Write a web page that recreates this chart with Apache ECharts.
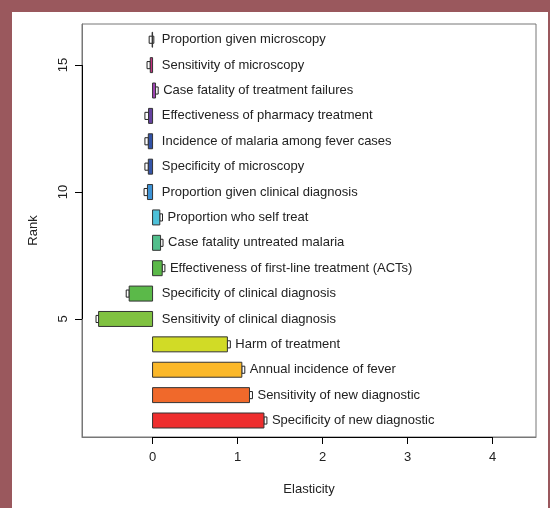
<!DOCTYPE html>
<html>
<head>
<meta charset="utf-8">
<script src="https://cdn.jsdelivr.net/npm/echarts@6/dist/echarts.min.js"></script>
<style>
  html, body { margin: 0; padding: 0; background: #9A585D; }
  #panel { position: absolute; left: 12px; top: 12px; width: 536px; height: 496px; background: #ffffff; }
  #chart { position: absolute; left: 0; top: 0; width: 550px; height: 508px; }
</style>
</head>
<body>
<div id="panel"></div>
<div id="chart"></div>
<script>
// Parameters, ordered by rank (1 = most influential)
const parameters = [
  'Specificity of new diagnostic',
  'Sensitivity of new diagnostic',
  'Annual incidence of fever',
  'Harm of treatment',
  'Sensitivity of clinical diagnosis',
  'Specificity of clinical diagnosis',
  'Effectiveness of first-line treatment (ACTs)',
  'Case fatality untreated malaria',
  'Proportion who self treat',
  'Proportion given clinical diagnosis',
  'Specificity of microscopy',
  'Incidence of malaria among fever cases',
  'Effectiveness of pharmacy treatment',
  'Case fatality of treatment failures',
  'Sensitivity of microscopy',
  'Proportion given microscopy'
];
const ranks = [1, 2, 3, 4, 5, 6, 7, 8, 9, 10, 11, 12, 13, 14, 15, 16];
const elasticity = [1.31, 1.14, 1.05, 0.88, -0.635, -0.275, 0.113, 0.094, 0.085, -0.06, -0.05, -0.05, -0.047, 0.035, -0.027, -0.005];
// Uncertainty interval around each elasticity
const intervalLow = [1.31, 1.14, 1.05, 0.88, -0.665, -0.31, 0.113, 0.094, 0.085, -0.1, -0.09, -0.09, -0.09, 0.035, -0.065, -0.04];
const intervalHigh = [1.345, 1.175, 1.085, 0.915, -0.635, -0.275, 0.145, 0.123, 0.117, -0.06, -0.05, -0.05, -0.047, 0.066, -0.027, 0.015];
const barColors = ['#EE2E2E', '#F0692B', '#FBB829', '#D1DB26', '#80C241', '#5BB949', '#5BB949', '#52BF8C',
  '#4DC1D9', '#3D93D6', '#3555A8', '#3252A6', '#6642A0', '#A044B5', '#C4317F', '#111111'];
const xTicks = [0, 1, 2, 3, 4];
const yTicks = [5, 10, 15];

const xMin = -0.83, xMax = 4.51, yMin = 0.35, yMax = 16.62;
const BAR_H = 0.59, BOX_H = 0.28;
const FONT = 'Liberation Sans, Arial, sans-serif';

const rows = ranks.map((r, i) => [r, elasticity[i], intervalLow[i], intervalHigh[i], i]);

const chart = echarts.init(document.getElementById('chart'), null, { renderer: 'canvas' });
chart.setOption({
  backgroundColor: 'transparent',
  animation: false,
  grid: { left: 82, right: 14, top: 24, bottom: 71, show: true, borderColor: '#777', borderWidth: 1, backgroundColor: '#fff' },
  xAxis: {
    type: 'value', min: xMin, max: xMax,
    name: 'Elasticity', nameLocation: 'middle', nameGap: 46,
    nameTextStyle: { fontFamily: FONT, fontSize: 13, color: '#222' },
    axisLine: { show: true, onZero: false, lineStyle: { color: '#777' } },
    splitLine: { show: false },
    axisTick: { show: true, inside: false, length: 7, lineStyle: { color: '#000' }, customValues: xTicks },
    axisLabel: { show: true, margin: 14, fontFamily: FONT, fontSize: 13, color: '#222', customValues: xTicks }
  },
  yAxis: {
    type: 'value', min: yMin, max: yMax,
    name: 'Rank', nameLocation: 'middle', nameGap: 42, nameRotate: 90,
    nameTextStyle: { fontFamily: FONT, fontSize: 13, color: '#222' },
    axisLine: { show: true, onZero: false, lineStyle: { color: '#777' } },
    splitLine: { show: false },
    axisTick: { show: true, inside: false, length: 7, lineStyle: { color: '#000' }, customValues: yTicks },
    axisLabel: { show: true, margin: 12, rotate: 90, fontFamily: FONT, fontSize: 13, color: '#222', customValues: yTicks }
  },
  series: [{
    type: 'custom',
    data: rows,
    encode: { x: [1, 2, 3], y: 0 },
    clip: false,
    renderItem: function (params, api) {
      const rank = api.value(0), v = api.value(1), lo = api.value(2), hi = api.value(3);
      const i = api.value(4);
      const p0 = api.coord([0, rank]);
      const pv = api.coord([v, rank]);
      const pl = api.coord([lo, rank]);
      const ph = api.coord([hi, rank]);
      const bh = api.size([0, BAR_H])[1];
      const eh = api.size([0, BOX_H])[1];
      const lx = api.coord([Math.max(hi, 0.05), rank])[0] + 5;
      return {
        type: 'group',
        children: [
          {
            type: 'rect',
            shape: { x: pl[0], y: pl[1] - eh / 2, width: ph[0] - pl[0], height: eh },
            style: { fill: '#fff', stroke: '#222', lineWidth: 1 }
          },
          {
            type: 'rect',
            shape: { x: Math.min(p0[0], pv[0]), y: p0[1] - bh / 2, width: Math.abs(pv[0] - p0[0]), height: bh },
            style: { fill: barColors[i], stroke: '#333', lineWidth: 1 }
          },
          {
            type: 'text',
            style: { text: parameters[i], x: lx, y: p0[1], align: 'left', verticalAlign: 'middle',
              fill: '#222', font: '13px ' + FONT }
          }
        ]
      };
    },
    markLine: {
      silent: true, symbol: 'none', label: { show: false },
      lineStyle: { color: '#000', width: 1, type: 'solid' },
      data: [
        [{ coord: [xTicks[0], yMin] }, { coord: [xTicks[xTicks.length - 1], yMin] }],
        [{ coord: [xMin, yTicks[0]] }, { coord: [xMin, yTicks[yTicks.length - 1]] }]
      ]
    }
  }]
});
</script>
</body>
</html>
